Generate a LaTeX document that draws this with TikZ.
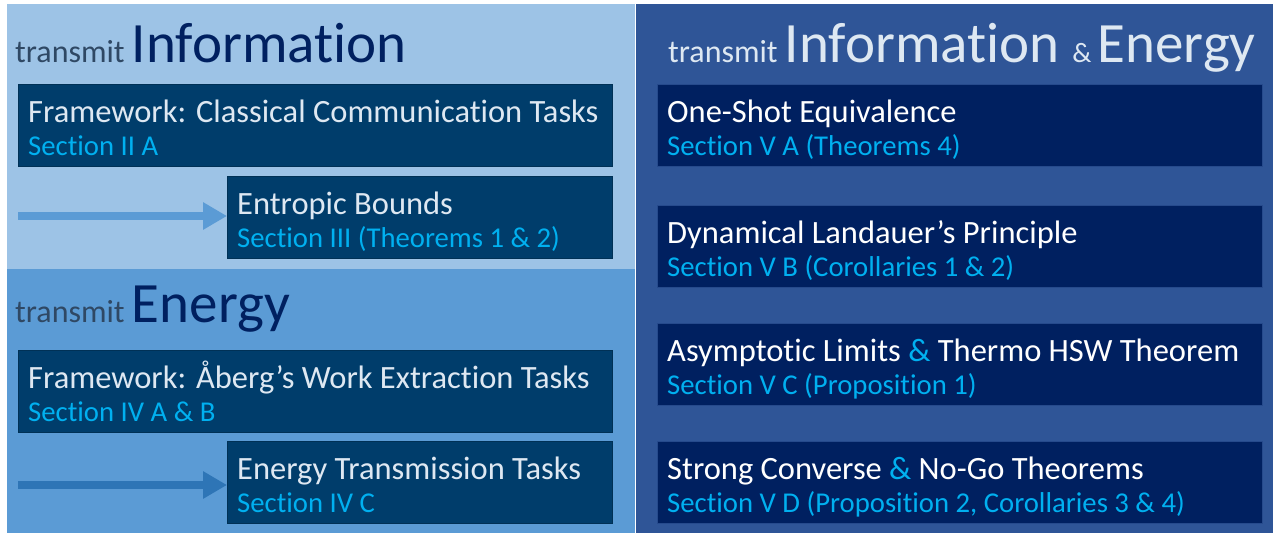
\documentclass[tikz,border=0pt]{standalone}
\usepackage{fontspec}
\setmainfont{Carlito}[Ligatures=NoCommon]
\usetikzlibrary{arrows.meta,positioning}

\newcommand{\smallttl}{\fontsize{32}{32}\selectfont}
\newcommand{\bigttl}{\fontsize{57}{57}\selectfont}
\newcommand{\ampttl}{\fontsize{28}{28}\selectfont}
\newcommand{\mainsz}{\fontsize{32.5}{33}\selectfont}
\newcommand{\subsz}{\fontsize{28.7}{30}\selectfont}

% two lines of text inside a box: #1 box name, #2 main line, #3 section line
\newcommand{\tasklines}[3]{%
  \node[maintxt] (#1-m) at ([shift={(10,38)}]#1.north west) {#2};
  \node[subtxt] (#1-s) at ([shift={(10,71)}]#1.north west) {#3};
}

\tikzset{
  lbox/.style={fill=leftbox, draw=leftbox!80!black, line width=0.8pt, anchor=north west,
    minimum height=82pt, inner sep=0pt},
  rbox/.style={fill=rightbox, draw=bothbg!80!rightbox, line width=1pt, anchor=north west,
    minimum width=605pt, minimum height=82pt, inner sep=0pt},
  maintxt/.style={anchor=base west, inner sep=0pt, font=\mainsz, text=boxtext},
  subtxt/.style={anchor=base west, inner sep=0pt, font=\subsz, text=secblue},
  ttl/.style={anchor=base west, inner sep=0pt},
  fatarrow/.style={line width=8pt, -{Triangle[length=24pt,width=26pt]}}
}

\begin{document}
\begin{tikzpicture}[x=1pt,y=-1pt]
  \definecolor{infobg}{RGB}{157,195,230}
  \definecolor{energybg}{RGB}{91,155,213}
  \definecolor{bothbg}{RGB}{47,85,151}
  \definecolor{leftbox}{RGB}{0,61,107}
  \definecolor{rightbox}{RGB}{0,32,96}
  \definecolor{secblue}{RGB}{0,176,240}
  \definecolor{titlenavy}{RGB}{0,32,96}
  \definecolor{titlegrey}{RGB}{47,72,100}
  \definecolor{boxtext}{RGB}{222,232,242}
  \definecolor{arrowA}{RGB}{91,155,213}
  \definecolor{arrowB}{RGB}{46,117,182}

  \useasboundingbox (0,0) rectangle (1278,533);

  % Panels
  \fill[infobg]   (7,4)   rectangle (635,269);
  \fill[energybg] (7,269) rectangle (635,533);
  \fill[bothbg]   (636,4) rectangle (1273,533);

  % Titles
  \node[ttl] (tinfo) at (15,62)
    {\color{titlegrey}\smallttl transmit \color{titlenavy}\bigttl Information};
  \node[ttl] (tenergy) at (15,322)
    {\color{titlegrey}\smallttl transmit \color{titlenavy}\bigttl Energy};
  \node[ttl, text=boxtext] (tboth) at (668,62)
    {\smallttl transmit \bigttl Information \ampttl\& \bigttl Energy};

  % Information side
  \node[lbox, minimum width=594pt] (frameI) at (18,84) {};
  \tasklines{frameI}{Framework: Classical Communication Tasks}{Section II A}
  \node[lbox, minimum width=385pt] (entropic) at (227,176) {};
  \tasklines{entropic}{Entropic Bounds}{Section III (Theorems 1 \& 2)}
  \coordinate (sI) at (18,216);
  \draw[fatarrow, arrowA] (sI) -- (sI -| entropic.west);

  % Energy side
  \node[lbox, minimum width=594pt] (frameE) at (18,350) {};
  \tasklines{frameE}{Framework: Åberg’s Work Extraction Tasks}{Section IV A \& B}
  \node[lbox, minimum width=385pt] (transm) at (227,441) {};
  \tasklines{transm}{Energy Transmission Tasks}{Section IV C}
  \coordinate (sE) at (18,485);
  \draw[fatarrow, arrowB] (sE) -- (sE -| transm.west);

  % Information & Energy side
  \foreach \n/\top/\main/\sec in {
      oneshot/84/{One-Shot Equivalence}/{Section V A (Theorems 4)},
      landauer/205/{Dynamical Landauer’s Principle}/{Section V B (Corollaries 1 \& 2)},
      asympt/323/{Asymptotic Limits {\color{secblue}\&} Thermo HSW Theorem}/{Section V C (Proposition 1)},
      strong/441/{Strong Converse {\color{secblue}\&} No-Go Theorems}/{Section V D (Proposition 2, Corollaries 3 \& 4)}}
  {
    \node[rbox] (\n) at (657,\top) {};
    \tasklines{\n}{\color{white}\main}{\sec}
  }
\end{tikzpicture}
\end{document}
